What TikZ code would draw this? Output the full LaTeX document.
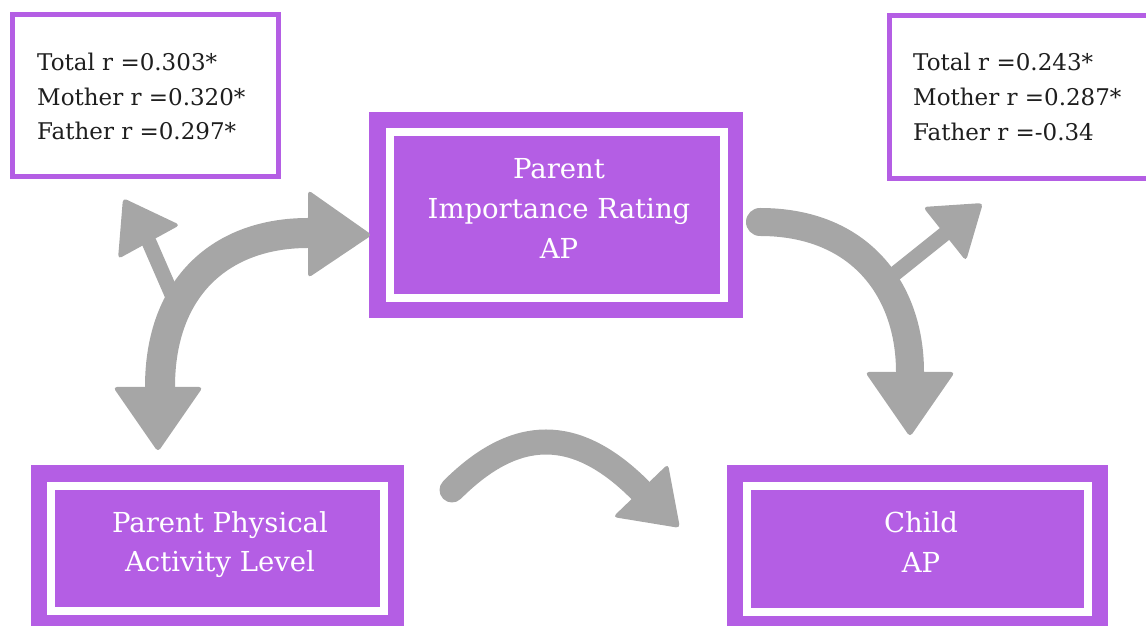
\documentclass[tikz,border=0pt]{standalone}
\usepackage{fontspec}
\setmainfont{DejaVu Serif}
\definecolor{purp}{RGB}{180,94,228}
\definecolor{arrgray}{RGB}{166,166,166}
\definecolor{ink}{RGB}{30,30,30}
\begin{document}
\begin{tikzpicture}[x=1pt,y=1pt,
  stat/.style={anchor=base west, inner sep=0pt, font=\fontsize{23}{34}\selectfont, text=ink},
  lbl/.style={anchor=base, inner sep=0pt, text=white, font=\fontsize{27.5}{40}\selectfont},
  statbox/.style={draw=purp, line width=5pt, fill=white, rectangle, inner sep=0pt},
  outerbox/.style={fill=purp, rectangle, inner sep=0pt},
  framebox/.style={draw=white, fill=purp, line width=8pt, rectangle, inner sep=0pt},
  band/.style={draw=arrgray, line cap=round},
  head/.style={fill=arrgray, rounded corners=4pt}]
\useasboundingbox (0,0) rectangle (1146,626);
\clip (0,0) rectangle (1146,626);

% statistic boxes
\node[statbox, minimum width=265.5pt, minimum height=162pt] (statL) at (145.25,530) {};
\node[statbox, minimum width=270.5pt, minimum height=163.5pt] (statR) at (1024.75,528.75) {};
\node[stat] (sl1) at (37,555) {Total r =0.303*};
\node[stat] (sl2) at (37,520.5) {Mother r =0.320*};
\node[stat] (sl3) at (37,486) {Father r =0.297*};
\node[stat] (sr1) at (913,555) {Total r =0.243*};
\node[stat] (sr2) at (913,520) {Mother r =0.287*};
\node[stat] (sr3) at (913,485.5) {Father r =-0.34};

% main boxes
\node[outerbox, minimum width=374pt, minimum height=206pt] (pirout) at (556,411) {};
\node[framebox, minimum width=334pt, minimum height=165.5pt] (pir) at (557,410.75) {};
\node[lbl] (pir1) at (559,447.7) {Parent};
\node[lbl] (pir2) at (559,407.7) {Importance Rating};
\node[lbl] (pir3) at (559,367.7) {AP};

\node[outerbox, minimum width=373pt, minimum height=171pt] (ppaout) at (217.5,75.5) {};
\node[framebox, minimum width=333pt, minimum height=125pt] (ppa) at (217.5,77.5) {};
\node[lbl] (ppa1) at (220,93) {Parent Physical};
\node[lbl] (ppa2) at (220,54) {Activity Level};

\node[outerbox, minimum width=381pt, minimum height=171pt] (chout) at (917.5,75.5) {};
\node[framebox, minimum width=341pt, minimum height=126pt] (ch) at (917.5,76.5) {};
\node[lbl] (ch1) at (921,93) {Child};
\node[lbl] (ch2) at (921,53) {AP};

% left arrow group
\coordinate (la0) at (160,239);
\coordinate (la1) at (308,393);
\coordinate (ls0) at (176,322);
\coordinate (ls1) at (149,384);
\draw[band, line width=15pt] (ls0) -- (ls1);
\draw[band, line width=30pt] (la0) .. controls (160,340) and (222,393) .. (la1);
\fill[head] (113,239) -- (203,239) -- (158,174) -- cycle;
\fill[head] (308,436) -- (308,348) -- (372,391) -- cycle;
\fill[head] (118,367) -- (180,401) -- (123,428) -- cycle;

% right arrow group
\coordinate (ra0) at (760,404);
\coordinate (ra1) at (910,254);
\coordinate (rs0) at (892,350);
\coordinate (rs1) at (944.5,392);
\draw[band, line width=15pt] (rs0) -- (rs1);
\draw[band, line width=28pt] (ra0) .. controls (860,404) and (910,336) .. (ra1);
\fill[head] (865,254) -- (955,254) -- (910,189) -- cycle;
\fill[head] (923,419) -- (966,365) -- (983,423) -- cycle;

% middle arrow
\coordinate (ma0) at (452,136);
\coordinate (ma1) at (640,136);
\draw[band, line width=25pt] (ma0) .. controls (516,200) and (576,200) .. (ma1);
\fill[head] (668,162) -- (613,109) -- (680,98) -- cycle;
\end{tikzpicture}
\end{document}
